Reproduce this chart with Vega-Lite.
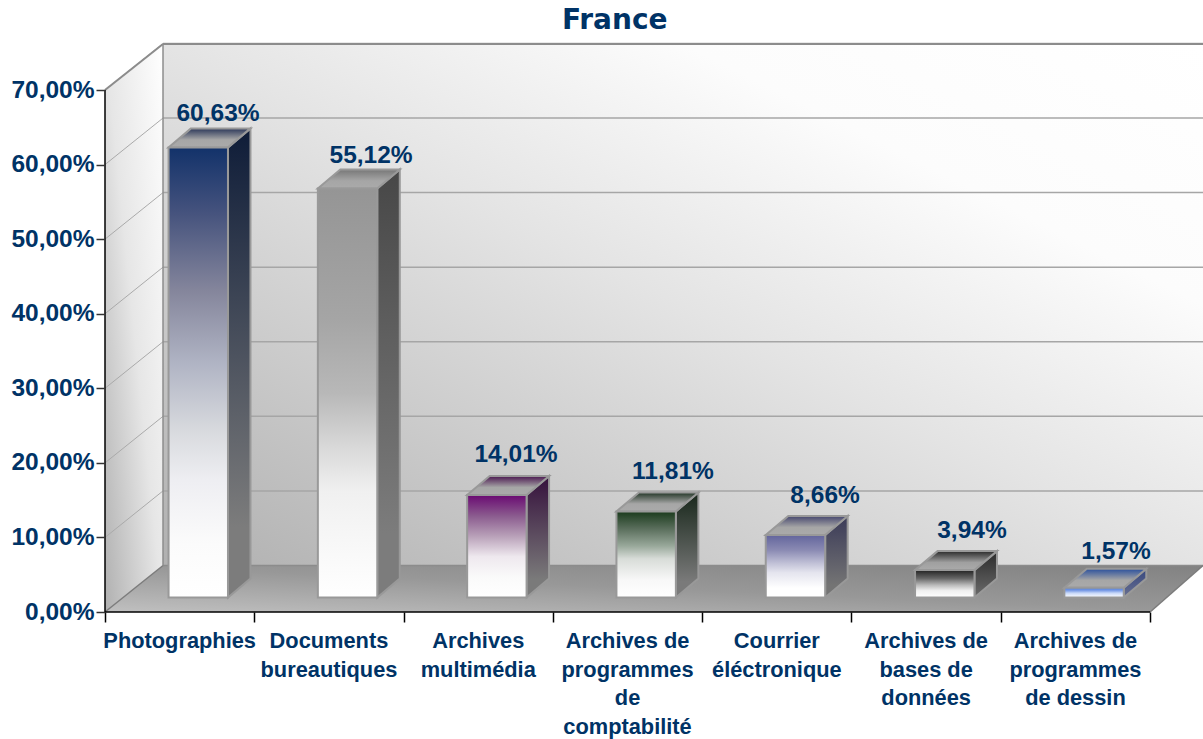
{
"$schema":"https://vega.github.io/schema/vega-lite/v6.json",
"width":1098,"height":568,
"autosize":{"type":"none"},
"padding":{"left":105,"top":44,"right":0,"bottom":127},
"background":"white",
"title":{"text":"France","font":"DejaVu Sans","fontWeight":"bold","fontSize":28,"color":"#003366","anchor":"start","dx":551,"dy":34,"offset":14,"baseline":"bottom"},
"datasets":{
"bars":[
{"i":0,"cat":"Photographies","label":"Photographies","value":60.63},
{"i":1,"cat":"Documents bureautiques","label":"Documents|bureautiques","value":55.12},
{"i":2,"cat":"Archives multimédia","label":"Archives|multimédia","value":14.01},
{"i":3,"cat":"Archives de programmes de comptabilité","label":"Archives de|programmes|de|comptabilité","value":11.81},
{"i":4,"cat":"Courrier éléctronique","label":"Courrier|éléctronique","value":8.66},
{"i":5,"cat":"Archives de bases de données","label":"Archives de|bases de|données","value":3.94},
{"i":6,"cat":"Archives de programmes de dessin","label":"Archives de|programmes|de dessin","value":1.57}
],
"ticks":[{"v":10},{"v":20},{"v":30},{"v":40},{"v":50},{"v":60},{"v":70}],
"leftWall":[{"px":0,"lo":0,"hi":70},{"px":0.3885,"lo":6.24,"hi":76.24}],
"floor":[{"d":0,"a":0,"b":7},{"d":6.24,"a":0.3885,"b":7.3544}]
},
"layer":[
{"data":{"values":[{}]},
 "mark":{"type":"rect","fill":{"gradient":"linear","x1":0,"y1":1,"x2":1,"y2":0,"stops":[{"offset":0,"color":"#b0b0b0"},{"offset":0.5,"color":"#e4e4e4"},{"offset":0.75,"color":"#fcfcfc"},{"offset":1,"color":"#ffffff"}]}},
 "encoding":{
  "x":{"datum":0.3885,"type":"quantitative","scale":{"domain":[0,7.3544],"nice":false,"zero":false},
   "axis":{"values":[0,1,2,3,4,5,6,7],"labels":false,"domain":false,"title":null,"grid":false,"tickSize":10,"tickColor":"#000000","tickWidth":1.5,"zindex":1}},
  "x2":{"datum":7.3544},
  "y":{"datum":6.24,"type":"quantitative","scale":{"domain":[0,76.17],"nice":false,"zero":false},
   "axis":{"values":[0,10,20,30,40,50,60,70],"domain":false,"title":null,"grid":false,"tickSize":9,"tickColor":"#333333","tickWidth":1.5,"labelFont":"Liberation Sans","labelFontWeight":"bold","labelFontSize":24.5,"labelColor":"#003366","labelPadding":2,"labelExpr":"replace(format(datum.value,'.2f'),'.',',')+'%'","zindex":1}},
  "y2":{"datum":76.17}
 }},
{"data":{"name":"leftWall"},
 "mark":{"type":"area","fill":{"gradient":"linear","x1":0,"y1":1,"x2":1,"y2":0,"stops":[{"offset":0,"color":"#b0b0b0"},{"offset":0.5,"color":"#e6e6e6"},{"offset":1,"color":"#ffffff"}]}},
 "encoding":{"x":{"field":"px","type":"quantitative"},"y":{"field":"hi","type":"quantitative"},"y2":{"field":"lo"}}},
{"data":{"name":"floor"},
 "mark":{"type":"area","orient":"horizontal","fill":{"gradient":"linear","x1":0,"y1":1,"x2":1,"y2":0,"stops":[{"offset":0,"color":"#c0c0c0"},{"offset":0.5,"color":"#989898"},{"offset":1,"color":"#828282"}]}},
 "encoding":{"y":{"field":"d","type":"quantitative"},"x":{"field":"a","type":"quantitative"},"x2":{"field":"b"}}},
{"data":{"name":"ticks"},
 "transform":[{"calculate":"datum.v+6.24","as":"v2"},{"calculate":"0.3885","as":"x0"},{"calculate":"7.3544","as":"x1"}],
 "mark":{"type":"rule","color":"#a6a6a6","strokeWidth":1.5},
 "encoding":{"x":{"field":"x0","type":"quantitative"},"x2":{"field":"x1"},"y":{"field":"v2","type":"quantitative"}}},
{"data":{"name":"ticks"},
 "transform":[{"calculate":"datum.v+6.24","as":"v2"},{"calculate":"0","as":"x0"},{"calculate":"0.3885","as":"x1"}],
 "mark":{"type":"rule","color":"#aaaaaa","strokeWidth":1},
 "encoding":{"x":{"field":"x0","type":"quantitative"},"x2":{"field":"x1"},"y":{"field":"v","type":"quantitative"},"y2":{"field":"v2"}}},
{"data":{"values":[{}]},"mark":{"type":"rule","color":"#8c8c8c","strokeWidth":2},
 "encoding":{"x":{"datum":0.3885,"type":"quantitative"},"x2":{"datum":7.3544},"y":{"datum":76.17,"type":"quantitative"}}},
{"data":{"values":[{}]},"mark":{"type":"rule","color":"#8c8c8c","strokeWidth":1.5},
 "encoding":{"x":{"datum":0.3885,"type":"quantitative"},"x2":{"datum":7.3544},"y":{"datum":6.24,"type":"quantitative"}}},
{"data":{"values":[{}]},"mark":{"type":"rule","color":"#8c8c8c","strokeWidth":1.5},
 "encoding":{"x":{"datum":0.3885,"type":"quantitative"},"y":{"datum":6.24,"type":"quantitative"},"y2":{"datum":76.17}}},
{"data":{"values":[{}]},"mark":{"type":"rule","color":"#8c8c8c","strokeWidth":2},
 "encoding":{"x":{"datum":0,"type":"quantitative"},"x2":{"datum":0.3885},"y":{"datum":70,"type":"quantitative"},"y2":{"datum":76.17}}},
{"data":{"values":[{}]},"mark":{"type":"rule","color":"#7c7c7c","strokeWidth":1.5},
 "encoding":{"x":{"datum":0,"type":"quantitative"},"x2":{"datum":0.3885},"y":{"datum":0,"type":"quantitative"},"y2":{"datum":6.24}}},
{"data":{"values":[{}]},"mark":{"type":"rule","color":"#7c7c7c","strokeWidth":1.5},
 "encoding":{"x":{"datum":7,"type":"quantitative"},"x2":{"datum":7.3544},"y":{"datum":0,"type":"quantitative"},"y2":{"datum":6.24}}},
{"data":{"values":[{}]},"mark":{"type":"rule","color":"#000000","strokeWidth":1.5},
 "encoding":{"x":{"datum":0,"type":"quantitative"},"y":{"datum":0,"type":"quantitative"},"y2":{"datum":70}}},
{"data":{"values":[{}]},"mark":{"type":"rule","color":"#000000","strokeWidth":1.5},
 "encoding":{"x":{"datum":0,"type":"quantitative"},"x2":{"datum":7},"y":{"datum":0,"type":"quantitative"}}},

{"data":{"name":"bars"},
 "transform":[{"calculate":"datum.i+0.8237","as":"r"},{"calculate":"[0,1]","as":"t"},{"flatten":["t"]},
  {"calculate":"datum.r+datum.t*0.1507","as":"sx"},{"calculate":"datum.value+datum.t*2.548","as":"st"},{"calculate":"datum.t*2.548","as":"sb"}],
 "mark":{"type":"area","stroke":"#999999","strokeWidth":2,"yOffset":-12.5,"y2Offset":-14.5},
 "encoding":{"x":{"field":"sx","type":"quantitative"},"y":{"field":"st","type":"quantitative"},"y2":{"field":"sb"},"detail":{"field":"i","type":"nominal"},
  "color":{"condition":[
   {"test":"datum.i==0","value":{"gradient":"linear","x1":0,"y1":0,"x2":0,"y2":1,"stops":[{"offset":0,"color":"#0e1c38"},{"offset":0.85,"color":"#7c7c7c"},{"offset":1,"color":"#7c7c7c"}]}},
   {"test":"datum.i==1","value":{"gradient":"linear","x1":0,"y1":0,"x2":0,"y2":1,"stops":[{"offset":0,"color":"#474747"},{"offset":0.85,"color":"#7c7c7c"},{"offset":1,"color":"#7c7c7c"}]}},
   {"test":"datum.i==2","value":{"gradient":"linear","x1":0,"y1":0,"x2":0,"y2":1,"stops":[{"offset":0,"color":"#35103c"},{"offset":0.85,"color":"#7a7a7a"},{"offset":1,"color":"#7a7a7a"}]}},
   {"test":"datum.i==3","value":{"gradient":"linear","x1":0,"y1":0,"x2":0,"y2":1,"stops":[{"offset":0,"color":"#17261a"},{"offset":0.85,"color":"#7a7a7a"},{"offset":1,"color":"#7a7a7a"}]}},
   {"test":"datum.i==4","value":{"gradient":"linear","x1":0,"y1":0,"x2":0,"y2":1,"stops":[{"offset":0,"color":"#3a3a58"},{"offset":0.85,"color":"#747474"},{"offset":1,"color":"#747474"}]}},
   {"test":"datum.i==5","value":{"gradient":"linear","x1":0,"y1":0,"x2":0,"y2":1,"stops":[{"offset":0,"color":"#2a2a2a"},{"offset":1,"color":"#6c6c6c"}]}}
  ],"value":{"gradient":"linear","x1":0,"y1":0,"x2":0,"y2":1,"stops":[{"offset":0,"color":"#35477f"},{"offset":1,"color":"#6a7090"}]}}}},
{"data":{"name":"bars"},
 "transform":[{"calculate":"[0,1]","as":"t"},{"flatten":["t"]},
  {"calculate":"datum.i+0.4257+datum.t*0.1507","as":"tl"},{"calculate":"datum.i+0.8237+datum.t*0.1507","as":"tr"},{"calculate":"datum.value+datum.t*2.548","as":"ty"}],
 "mark":{"type":"area","orient":"horizontal","stroke":"#999999","strokeWidth":2,"yOffset":-12.5},
 "encoding":{"y":{"field":"ty","type":"quantitative"},"x":{"field":"tl","type":"quantitative"},"x2":{"field":"tr"},"detail":{"field":"i","type":"nominal"},
  "color":{"condition":[
   {"test":"datum.i==0","value":{"gradient":"linear","x1":0,"y1":0,"x2":0,"y2":1,"stops":[{"offset":0,"color":"#2a3658"},{"offset":0.6,"color":"#a6a6a6"},{"offset":1,"color":"#aaaaaa"}]}},
   {"test":"datum.i==1","value":{"gradient":"linear","x1":0,"y1":0,"x2":0,"y2":1,"stops":[{"offset":0,"color":"#777777"},{"offset":0.6,"color":"#a6a6a6"},{"offset":1,"color":"#aaaaaa"}]}},
   {"test":"datum.i==2","value":{"gradient":"linear","x1":0,"y1":0,"x2":0,"y2":1,"stops":[{"offset":0,"color":"#4a1650"},{"offset":0.6,"color":"#a6a6a6"},{"offset":1,"color":"#aaaaaa"}]}},
   {"test":"datum.i==3","value":{"gradient":"linear","x1":0,"y1":0,"x2":0,"y2":1,"stops":[{"offset":0,"color":"#223526"},{"offset":0.6,"color":"#a6a6a6"},{"offset":1,"color":"#aaaaaa"}]}},
   {"test":"datum.i==4","value":{"gradient":"linear","x1":0,"y1":0,"x2":0,"y2":1,"stops":[{"offset":0,"color":"#45466e"},{"offset":0.6,"color":"#a6a6a6"},{"offset":1,"color":"#aaaaaa"}]}},
   {"test":"datum.i==5","value":{"gradient":"linear","x1":0,"y1":0,"x2":0,"y2":1,"stops":[{"offset":0,"color":"#2a2a2a"},{"offset":0.6,"color":"#a0a0a0"},{"offset":1,"color":"#aaaaaa"}]}}
  ],"value":{"gradient":"linear","x1":0,"y1":0,"x2":0,"y2":1,"stops":[{"offset":0,"color":"#2a4f9c"},{"offset":0.6,"color":"#a6a6a6"},{"offset":1,"color":"#aaaaaa"}]}}}},
{"data":{"name":"bars"},
 "transform":[{"calculate":"datum.i+0.4257","as":"l"},{"calculate":"datum.i+0.8237","as":"r"},{"calculate":"0","as":"base"}],
 "mark":{"type":"rect","stroke":"#999999","strokeWidth":2,"yOffset":-12.5,"y2Offset":-14.5},
 "encoding":{"x":{"field":"l","type":"quantitative"},"x2":{"field":"r"},"y":{"field":"value","type":"quantitative"},"y2":{"field":"base"},
  "color":{"condition":[
   {"test":"datum.i==0","value":{"gradient":"linear","x1":0,"y1":0,"x2":0,"y2":1,"stops":[{"offset":0,"color":"#12326a"},{"offset":0.15,"color":"#47547e"},{"offset":0.32,"color":"#85869c"},{"offset":0.48,"color":"#b0b4c4"},{"offset":0.63,"color":"#d8dade"},{"offset":0.74,"color":"#eeeef2"},{"offset":0.88,"color":"#fbfbfb"},{"offset":1,"color":"#ffffff"}]}},
   {"test":"datum.i==1","value":{"gradient":"linear","x1":0,"y1":0,"x2":0,"y2":1,"stops":[{"offset":0,"color":"#959595"},{"offset":0.32,"color":"#a5a5a5"},{"offset":0.5,"color":"#b8b8b8"},{"offset":0.63,"color":"#d8d8d8"},{"offset":0.74,"color":"#f0f0f0"},{"offset":1,"color":"#ffffff"}]}},
   {"test":"datum.i==2","value":{"gradient":"linear","x1":0,"y1":0,"x2":0,"y2":1,"stops":[{"offset":0,"color":"#6a0a72"},{"offset":0.2,"color":"#8a5a8e"},{"offset":0.4,"color":"#b8a0b8"},{"offset":0.6,"color":"#eee8ee"},{"offset":0.8,"color":"#fafafa"},{"offset":1,"color":"#ffffff"}]}},
   {"test":"datum.i==3","value":{"gradient":"linear","x1":0,"y1":0,"x2":0,"y2":1,"stops":[{"offset":0,"color":"#1a3a1c"},{"offset":0.2,"color":"#5a6e5c"},{"offset":0.4,"color":"#98a89a"},{"offset":0.55,"color":"#d8dcd8"},{"offset":0.8,"color":"#f8f8f8"},{"offset":1,"color":"#ffffff"}]}},
   {"test":"datum.i==4","value":{"gradient":"linear","x1":0,"y1":0,"x2":0,"y2":1,"stops":[{"offset":0,"color":"#62649c"},{"offset":0.25,"color":"#8c8cb4"},{"offset":0.45,"color":"#c0c0d6"},{"offset":0.6,"color":"#e4e4ee"},{"offset":0.85,"color":"#ffffff"},{"offset":1,"color":"#ffffff"}]}},
   {"test":"datum.i==5","value":{"gradient":"linear","x1":0,"y1":0,"x2":0,"y2":1,"stops":[{"offset":0,"color":"#222222"},{"offset":0.3,"color":"#666666"},{"offset":0.55,"color":"#bbbbbb"},{"offset":0.75,"color":"#f0f0f0"},{"offset":1,"color":"#ffffff"}]}}
  ],"value":{"gradient":"linear","x1":0,"y1":0,"x2":0,"y2":1,"stops":[{"offset":0,"color":"#4a76d4"},{"offset":0.3,"color":"#7fa0e8"},{"offset":0.55,"color":"#c8d8f8"},{"offset":1,"color":"#ffffff"}]}}}},
{"data":{"name":"bars"},
 "transform":[{"calculate":"replace(format(datum.value,'.2f'),'.',',')+'%'","as":"txt"},
  {"calculate":"datum.i+[0.757,0.782,0.753,0.804,0.823,0.807,0.772][datum.i]","as":"lx"},
  {"calculate":"datum.value+[6.3,6.17,7.31,7.1,7.03,7.19,6.7][datum.i]","as":"ly"}],
 "mark":{"type":"text","font":"Liberation Sans","fontWeight":"bold","fontSize":24.5,"color":"#003366","baseline":"middle","align":"center","yOffset":1.5},
 "encoding":{"x":{"field":"lx","type":"quantitative"},"y":{"field":"ly","type":"quantitative"},"text":{"field":"txt"}}},
{"data":{"name":"bars"},
 "transform":[{"calculate":"datum.i+0.5","as":"cx"},{"calculate":"0","as":"y0"}],
 "mark":{"type":"text","font":"Liberation Sans","fontWeight":"bold","fontSize":21.8,"color":"#003366","baseline":"alphabetic","align":"center","lineBreak":"|","lineHeight":28.6,"yOffset":36},
 "encoding":{"x":{"field":"cx","type":"quantitative"},"y":{"field":"y0","type":"quantitative"},"text":{"field":"label"}}}
],
"config":{"view":{"stroke":null}}
}
